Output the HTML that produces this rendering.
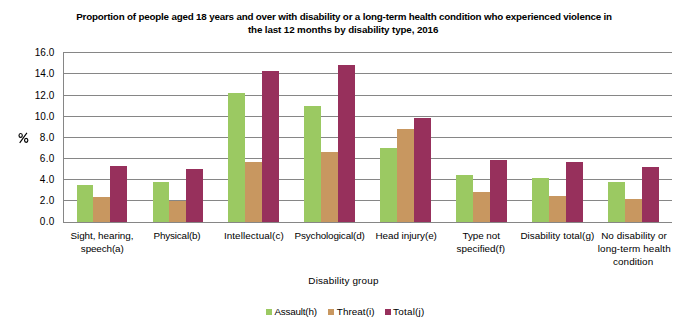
<!DOCTYPE html>
<html><head><meta charset="utf-8"><style>
html,body{margin:0;padding:0;background:#fff;width:686px;height:331px;overflow:hidden;position:relative}
div{position:absolute}
.t{font-family:"Liberation Sans",sans-serif;color:#000;white-space:nowrap;line-height:1}
.b{font-weight:bold}
</style></head><body>
<div style="left:63px;top:52px;width:609px;height:1px;background:#868686;"></div>
<div style="left:63px;top:73px;width:609px;height:1px;background:#868686;"></div>
<div style="left:63px;top:95px;width:609px;height:1px;background:#868686;"></div>
<div style="left:63px;top:116px;width:609px;height:1px;background:#868686;"></div>
<div style="left:63px;top:137px;width:609px;height:1px;background:#868686;"></div>
<div style="left:63px;top:158px;width:609px;height:1px;background:#868686;"></div>
<div style="left:63px;top:179px;width:609px;height:1px;background:#868686;"></div>
<div style="left:63px;top:200px;width:609px;height:1px;background:#868686;"></div>
<div style="left:77px;top:185px;width:16px;height:37px;background:#9bc962;"></div>
<div style="left:93px;top:197px;width:17px;height:25px;background:#c89760;"></div>
<div style="left:110px;top:166px;width:17px;height:56px;background:#97305c;"></div>
<div style="left:153px;top:182px;width:16px;height:40px;background:#9bc962;"></div>
<div style="left:169px;top:201px;width:17px;height:21px;background:#c89760;"></div>
<div style="left:186px;top:169px;width:17px;height:53px;background:#97305c;"></div>
<div style="left:228px;top:93px;width:17px;height:129px;background:#9bc962;"></div>
<div style="left:245px;top:162px;width:17px;height:60px;background:#c89760;"></div>
<div style="left:262px;top:71px;width:17px;height:151px;background:#97305c;"></div>
<div style="left:304px;top:106px;width:17px;height:116px;background:#9bc962;"></div>
<div style="left:321px;top:152px;width:17px;height:70px;background:#c89760;"></div>
<div style="left:338px;top:65px;width:17px;height:157px;background:#97305c;"></div>
<div style="left:380px;top:148px;width:17px;height:74px;background:#9bc962;"></div>
<div style="left:397px;top:129px;width:17px;height:93px;background:#c89760;"></div>
<div style="left:414px;top:118px;width:17px;height:104px;background:#97305c;"></div>
<div style="left:456px;top:175px;width:17px;height:47px;background:#9bc962;"></div>
<div style="left:473px;top:192px;width:17px;height:30px;background:#c89760;"></div>
<div style="left:490px;top:160px;width:17px;height:62px;background:#97305c;"></div>
<div style="left:532px;top:178px;width:17px;height:44px;background:#9bc962;"></div>
<div style="left:549px;top:196px;width:17px;height:26px;background:#c89760;"></div>
<div style="left:566px;top:162px;width:17px;height:60px;background:#97305c;"></div>
<div style="left:608px;top:182px;width:17px;height:40px;background:#9bc962;"></div>
<div style="left:625px;top:199px;width:17px;height:23px;background:#c89760;"></div>
<div style="left:642px;top:167px;width:17px;height:55px;background:#97305c;"></div>
<div style="left:63px;top:52px;width:1px;height:171px;background:#868686;"></div>
<div style="left:63px;top:222px;width:609px;height:1px;background:#868686;"></div>
<svg style="position:absolute;left:0;top:0" width="40" height="160" viewBox="0 0 40 160"><g fill="none" stroke="#000"><ellipse cx="20.65" cy="135.4" rx="1.65" ry="1.95" stroke-width="1.15"/><ellipse cx="26.2" cy="140.35" rx="1.65" ry="1.95" stroke-width="1.15"/><path d="M26.9 132.9 L19.7 142.9" stroke-width="1.1"/></g></svg>
<div style="left:266px;top:309px;width:6px;height:6px;background:#9bc962;"></div>
<div style="left:328px;top:309px;width:6px;height:6px;background:#c89760;"></div>
<div style="left:385px;top:309px;width:6px;height:6px;background:#97305c;"></div>
<div id="title1" class="t b" style="left:-55.88px;width:800px;text-align:center;top:11.70px;font-size:9.8px;letter-spacing:-0.183px;text-indent:-0.183px;">Proportion of people aged 18 years and over with disability or a long-term health condition who experienced violence in</div>
<div id="title2" class="t b" style="left:-56.88px;width:800px;text-align:center;top:24.70px;font-size:9.8px;letter-spacing:-0.120px;text-indent:-0.120px;">the last 12 months by disability type, 2016</div>
<div id="y16.0" class="t" style="left:-355.51px;width:800px;text-align:center;top:47.54px;font-size:10px;letter-spacing:0.000px;text-indent:0.000px;">16.0</div>
<div id="y14.0" class="t" style="left:-355.51px;width:800px;text-align:center;top:68.53px;font-size:10px;letter-spacing:0.000px;text-indent:0.000px;">14.0</div>
<div id="y12.0" class="t" style="left:-355.51px;width:800px;text-align:center;top:90.53px;font-size:10px;letter-spacing:0.000px;text-indent:0.000px;">12.0</div>
<div id="y10.0" class="t" style="left:-355.51px;width:800px;text-align:center;top:111.53px;font-size:10px;letter-spacing:0.000px;text-indent:0.000px;">10.0</div>
<div id="y8.0" class="t" style="left:-352.94px;width:800px;text-align:center;top:132.53px;font-size:10px;letter-spacing:0.280px;text-indent:0.280px;">8.0</div>
<div id="y6.0" class="t" style="left:-352.94px;width:800px;text-align:center;top:153.53px;font-size:10px;letter-spacing:0.280px;text-indent:0.280px;">6.0</div>
<div id="y4.0" class="t" style="left:-352.94px;width:800px;text-align:center;top:174.53px;font-size:10px;letter-spacing:0.280px;text-indent:0.280px;">4.0</div>
<div id="y2.0" class="t" style="left:-352.94px;width:800px;text-align:center;top:195.53px;font-size:10px;letter-spacing:0.280px;text-indent:0.280px;">2.0</div>
<div id="y0.0" class="t" style="left:-352.94px;width:800px;text-align:center;top:216.53px;font-size:10px;letter-spacing:0.280px;text-indent:0.280px;">0.0</div>
<div id="c0_0" class="t" style="left:-298.06px;width:800px;text-align:center;top:230.62px;font-size:9.9px;letter-spacing:-0.060px;text-indent:-0.060px;">Sight, hearing,</div>
<div id="c0_1" class="t" style="left:-297.72px;width:800px;text-align:center;top:243.62px;font-size:9.9px;letter-spacing:-0.123px;text-indent:-0.123px;">speech(a)</div>
<div id="c1_0" class="t" style="left:-222.91px;width:800px;text-align:center;top:230.62px;font-size:9.9px;letter-spacing:-0.182px;text-indent:-0.182px;">Physical(b)</div>
<div id="c2_0" class="t" style="left:-146.19px;width:800px;text-align:center;top:230.62px;font-size:9.9px;letter-spacing:0.080px;text-indent:0.080px;">Intellectual(c)</div>
<div id="c3_0" class="t" style="left:-70.32px;width:800px;text-align:center;top:230.62px;font-size:9.9px;letter-spacing:-0.149px;text-indent:-0.149px;">Psychological(d)</div>
<div id="c4_0" class="t" style="left:6.19px;width:800px;text-align:center;top:230.62px;font-size:9.9px;letter-spacing:-0.043px;text-indent:-0.043px;">Head injury(e)</div>
<div id="c5_0" class="t" style="left:81.25px;width:800px;text-align:center;top:230.62px;font-size:9.9px;letter-spacing:-0.080px;text-indent:-0.080px;">Type not</div>
<div id="c5_1" class="t" style="left:80.78px;width:800px;text-align:center;top:243.62px;font-size:9.9px;letter-spacing:0.013px;text-indent:0.013px;">specified(f)</div>
<div id="c6_0" class="t" style="left:157.31px;width:800px;text-align:center;top:230.62px;font-size:9.9px;letter-spacing:0.047px;text-indent:0.047px;">Disability total(g)</div>
<div id="c7_0" class="t" style="left:234.03px;width:800px;text-align:center;top:230.62px;font-size:9.9px;letter-spacing:0.065px;text-indent:0.065px;">No disability or</div>
<div id="c7_1" class="t" style="left:234.22px;width:800px;text-align:center;top:243.62px;font-size:9.9px;letter-spacing:0.103px;text-indent:0.103px;">long-term health</div>
<div id="c7_2" class="t" style="left:233.12px;width:800px;text-align:center;top:256.62px;font-size:9.9px;letter-spacing:0.070px;text-indent:0.070px;">condition</div>
<div id="xtitle" class="t" style="left:-56.63px;width:800px;text-align:center;top:275.62px;font-size:9.9px;letter-spacing:0.168px;text-indent:0.168px;">Disability group</div>
<div id="leg1" class="t" style="left:-104.31px;width:800px;text-align:center;top:307.02px;font-size:9.9px;letter-spacing:-0.218px;text-indent:-0.218px;">Assault(h)</div>
<div id="leg2" class="t" style="left:-44.34px;width:800px;text-align:center;top:307.02px;font-size:9.9px;letter-spacing:0.052px;text-indent:0.052px;">Threat(i)</div>
<div id="leg3" class="t" style="left:8.69px;width:800px;text-align:center;top:307.02px;font-size:9.9px;letter-spacing:0.240px;text-indent:0.240px;">Total(j)</div>
</body></html>
